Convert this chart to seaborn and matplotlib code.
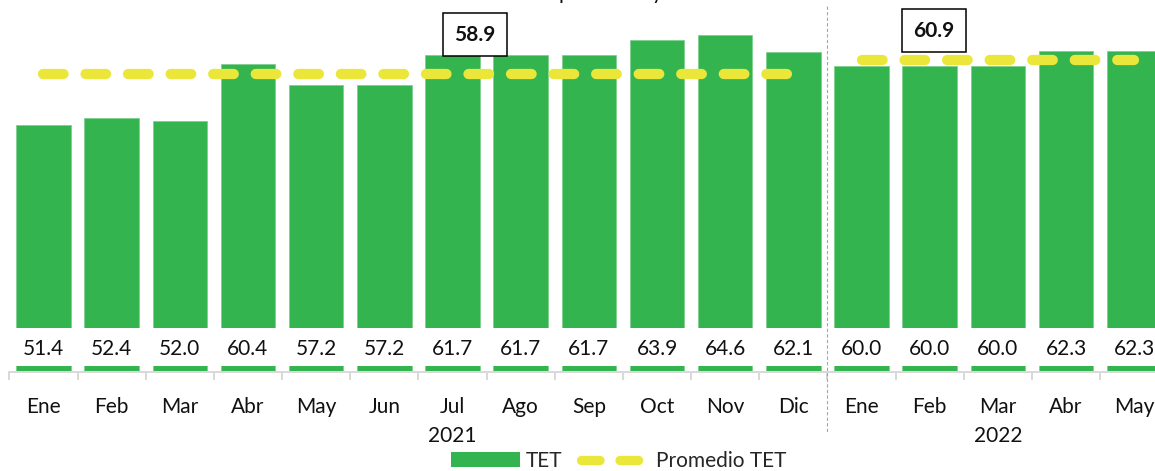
import numpy as np
import pandas as pd
import matplotlib
matplotlib.use("Agg")
import matplotlib.pyplot as plt
from matplotlib.patches import Patch
from matplotlib.lines import Line2D
import seaborn as sns

# Monthly TET values, Jan 2021 - May 2022
months = ["Ene", "Feb", "Mar", "Abr", "May", "Jun", "Jul", "Ago", "Sep", "Oct",
          "Nov", "Dic", "Ene", "Feb", "Mar", "Abr", "May"]
tet = [51.4, 52.4, 52.0, 60.4, 57.2, 57.2, 61.7, 61.7, 61.7, 63.9,
       64.6, 62.1, 60.0, 60.0, 60.0, 62.3, 62.3]

# Year captions placed under one month of each year
year_names = ["2021", "2022"]
year_tick_index = [6, 14]

# Yearly averages and the month indices each average spans
avg_values = [58.9, 60.9]
avg_first = [0, 12]
avg_last = [11, 16]

GREEN = "#34B44E"
YELLOW = "#EBE73A"
GRID_GREY = "#D9D9D9"
TEXT = "#111111"

sns.set_theme(style="white")
plt.rcParams["font.family"] = ["Lato", "DejaVu Sans"]

W, H = 1155, 471
fig = plt.figure(figsize=(W / 100, H / 100), dpi=100)
ax = fig.add_axes([9.4 / W, 99 / H, 1 - 9.4 / W, 372 / H])

df = pd.DataFrame({"pos": np.arange(len(tet)), "TET": tet})
sns.barplot(data=df, x="pos", y="TET", color=GREEN, saturation=1, width=0.8,
            edgecolor="#7fd08f", linewidth=0.6, ax=ax)

# white band carrying the value labels
ax.axhspan(16.22, 21.78, color="white", lw=0, zorder=2.5)
for i, v in enumerate(tet):
    ax.text(i, 17.79, f"{v:.1f}", ha="center", va="baseline", fontsize=15,
            color=TEXT, zorder=5)

# yearly average lines
for x0, x1, v in zip(avg_first, avg_last, avg_values):
    ax.plot([x0, x1], [v, v], color=YELLOW, lw=7.4, linestyle=(0, (2.0, 2.14)),
            dash_capstyle="round", solid_capstyle="round", zorder=3)

# boxed average labels
box_pos = [(6.33, 64.6), (13.06, 65.2)]
for (bx, by), v in zip(box_pos, avg_values):
    ax.text(bx, by, f"{v:.1f}", ha="center", va="center", fontsize=15,
            fontweight="bold", color=TEXT, zorder=6,
            bbox=dict(boxstyle="square,pad=0.55", fc="white", ec="black", lw=1.1))

# year separator
ax.plot([11.5, 11.5], [0.984, -0.164], transform=ax.get_xaxis_transform(),
        color="#A6A6A6", lw=0.8, linestyle=(0, (3, 2)), clip_on=False, zorder=4)

# x axis
labels = list(months)
for idx, yname in zip(year_tick_index, year_names):
    labels[idx] = f"{labels[idx]}\n{yname}"
ax.set_xticks(np.arange(len(tet)))
ax.set_xticklabels(labels, fontsize=15, color=TEXT)
for t in ax.get_xticklabels():
    t.set_linespacing(1.55)
ax.set_xticks(np.arange(-0.5, len(tet) + 0.5, 1), minor=True)
ax.tick_params(axis="x", which="major", bottom=True, length=0, pad=18)
ax.tick_params(axis="x", which="minor", bottom=True, length=5.8, width=1.44,
               color=GRID_GREY, direction="out")
ax.tick_params(axis="y", left=False, labelleft=False)
ax.set_xlabel("")
ax.set_ylabel("")
sns.despine(ax=ax, left=True)
ax.spines["bottom"].set_color(GRID_GREY)
ax.spines["bottom"].set_linewidth(1.44)

ax.set_xlim(-0.5, 16.305)
ax.set_ylim(15.3, 69.69)

# title
fig.text(512 / W, 1 + 1 / H, "TET: promedio y valores mensuales", ha="left",
         va="baseline", fontsize=15, color=TEXT)

handles = [Patch(facecolor=GREEN, edgecolor="none"),
           Line2D([], [], color=YELLOW, lw=6.7, linestyle=(0, (2.0, 2.14)),
                  dash_capstyle="round")]
fig.legend(handles, ["TET", "Promedio TET"], loc="center",
           bbox_to_anchor=(619 / W, 10 / H), ncol=2, frameon=False, fontsize=15,
           handlelength=3.3, handleheight=0.7, handletextpad=0.3,
           columnspacing=0.9, borderpad=0, borderaxespad=0)

fig.savefig("out.png", dpi=100)
